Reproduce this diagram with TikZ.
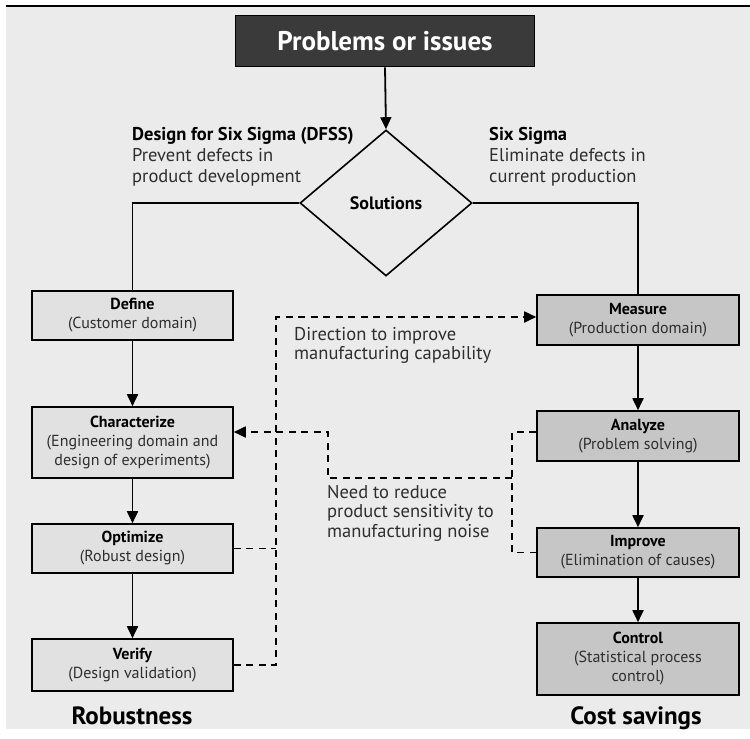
\documentclass[tikz,border=0pt]{standalone}
\usepackage{fontspec}
\setmainfont{PT Sans}
\usetikzlibrary{shapes.geometric,arrows.meta}
\definecolor{paper}{HTML}{EBEBEB}
\definecolor{lightbox}{HTML}{E1E1E1}
\definecolor{darkbox}{HTML}{C6C6C6}
\definecolor{headbox}{HTML}{3A3A3A}
\definecolor{bodytext}{HTML}{2E2E2E}
\tikzset{
  stage/.style={draw=black, line width=1.6pt, minimum width=201pt, inner sep=0pt,
    align=center, font=\fontsize{16}{19}\selectfont, text=bodytext},
  leftstage/.style={stage, fill=lightbox},
  rightstage/.style={stage, fill=darkbox},
  flow/.style={line width=1.8pt, draw=black},
  flowarrow/.style={flow, -{Triangle[width=11pt,length=12pt]}},
  dashline/.style={line width=1.8pt, dash pattern=on 7pt off 5.5pt},
  dasharrow/.style={dashline, -{Triangle[width=11pt,length=12pt]}},
  note/.style={inner sep=0pt, align=left, anchor=north west,
    font=\fontsize{18.5}{21}\selectfont, text=bodytext},
  sidenote/.style={note, font=\fontsize{18.5}{19.5}\selectfont},
  footer/.style={inner sep=0pt, anchor=base, font=\fontsize{25}{28}\selectfont\bfseries}
}
\newcommand{\hd}[1]{{\bfseries\color{black}#1}}
\begin{document}
\begin{tikzpicture}[x=1pt,y=-1pt]
  \useasboundingbox (0,0) rectangle (750,739);
  % page backdrop and top rule
  \fill[white] (0,0) rectangle (750,739);
  \fill[paper] (6,6) rectangle (750,729);
  \draw[line width=1.5pt] (6,6) -- (750,6);

  % head and decision
  \node[draw=black, line width=1.8pt, fill=headbox, minimum width=299pt, minimum height=51pt,
        text=white, font=\fontsize{27}{30}\selectfont\bfseries] (prob) at (385,41) {Problems or issues};
  \node[diamond, draw=black, line width=1.6pt, fill=paper, minimum width=172pt, minimum height=146pt,
        inner sep=0pt, font=\fontsize{18}{21}\selectfont\bfseries] (sol) at (386,203) {Solutions};

  % DFSS column
  \node[leftstage, minimum height=49pt] (def) at (132.5,315.5) {\hd{Define}\\(Customer domain)};
  \node[leftstage, minimum height=71pt] (char) at (132.5,442.5)
        {\hd{Characterize}\\(Engineering domain and\\design of experiments)};
  \node[leftstage, minimum height=49pt] (opt) at (132.5,548.5) {\hd{Optimize}\\(Robust design)};
  \node[leftstage, minimum height=52pt] (ver) at (132.5,665) {\hd{Verify}\\(Design validation)};

  % Six Sigma column
  \node[rightstage, minimum height=50pt, minimum width=202pt] (meas) at (638,320) {\hd{Measure}\\(Production domain)};
  \node[rightstage, minimum height=50pt, minimum width=202pt] (anal) at (638,436) {\hd{Analyze}\\(Problem solving)};
  \node[rightstage, minimum height=49pt, minimum width=202pt] (impr) at (638,552.5) {\hd{Improve}\\(Elimination of causes)};
  \node[rightstage, minimum height=72pt, minimum width=202pt] (ctrl) at (638,659)
        {\hd{Control}\\(Statistical process\\control)};

  % branch descriptions
  \node[note] (dfss) at (132,127) {\hd{Design for Six Sigma (DFSS)}\\Prevent defects in\\product development};
  \node[note] (ss) at (489,127) {\hd{Six Sigma}\\Eliminate defects in\\current production};
  \node[sidenote] (dir) at (294,327) {Direction to improve\\manufacturing capability};
  \node[sidenote] (need) at (327,485) {Need to reduce\\product sensitivity to\\manufacturing noise};

  % column captions
  \node[footer] (rob) at (132,724) {Robustness};
  \node[footer] (cost) at (636,724) {Cost savings};

  % solid flow
  \draw[flowarrow] (prob.south) -- (sol.north);
  \draw[flow] (sol.west) -| (def.north);
  \draw[flow] (sol.east) -| (meas.north);
  \draw[flowarrow] (def) -- (char);
  \draw[flowarrow] (char) -- (opt);
  \draw[flowarrow] (opt) -- (ver);
  \draw[flowarrow] (meas) -- (anal);
  \draw[flowarrow] (anal) -- (impr);
  \draw[flowarrow] (impr) -- (ctrl);

  % feedback: DFSS to production
  \coordinate (dl) at (276,317);
  \draw[dashline] (opt.east) -- (opt.east -| dl);
  \draw[dasharrow] (ver.east) -- (ver.east -| dl) -- (dl) -- (meas.west |- dl);

  % feedback: production to DFSS
  \coordinate (dr) at (512,432);
  \coordinate (dm) at (328,478);
  \draw[dashline] (anal.west |- dr) -- (dr) -- (dr |- impr.west) -- (impr.west);
  \draw[dasharrow] (dr |- dm) -- (dm) -- (dm |- dr) -- (char.east |- dr);
\end{tikzpicture}
\end{document}
